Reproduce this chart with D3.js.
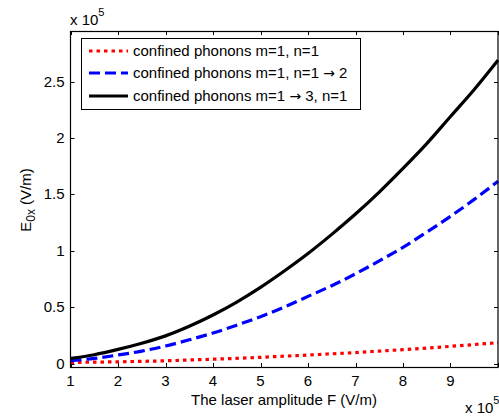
<!DOCTYPE html>
<html><head><meta charset="utf-8">
<script src="https://cdn.jsdelivr.net/npm/d3@7/dist/d3.min.js"></script>
<style>body{margin:0;background:#fff}svg{display:block;font-family:"Liberation Sans",Arial,sans-serif}</style>
</head><body>
<svg id="c" width="499" height="416"></svg>
<script>
// x in units of 1e5 V/m, y in units of 1e5 V/m
const xs = [1,1.5,2,2.5,3,3.5,4,4.5,5,5.5,6,6.5,7,7.5,8,8.5,9,9.5,10];
const redVals   = [0.010,0.012,0.015,0.019,0.024,0.031,0.038,0.046,0.055,0.065,0.075,0.086,0.097,0.11,0.123,0.137,0.152,0.168,0.185];
const blueVals  = [0.025,0.045,0.075,0.11,0.155,0.21,0.27,0.34,0.415,0.50,0.595,0.69,0.795,0.91,1.03,1.165,1.305,1.455,1.615];
const blackVals = [0.045,0.078,0.125,0.18,0.245,0.33,0.43,0.545,0.675,0.82,0.975,1.145,1.325,1.52,1.73,1.95,2.19,2.43,2.69];
const seriesNames = [["confined phonons m=1, n=1"],["confined phonons m=1, n=1 ","\u2192"," 2"],["confined phonons m=1 ","\u2192"," 3, n=1"]];
const xTicks = [1,2,3,4,5,6,7,8,9];
const yTicks = [0,0.5,1,1.5,2,2.5];
const yTickLabels = ["0","0.5","1","1.5","2","2.5"];

const svg = d3.select("#c");
const L=70.5, R=498, T=31, B=367;
const x = d3.scaleLinear().domain([1,10]).range([L,R]);
const y = d3.scaleLinear().domain([-0.031,2.948]).range([B,T]);

// ticks inside, all four sides
const tk=4;
const g = svg.append("g").attr("stroke","#000").attr("stroke-width",1);
xTicks.concat([10]).forEach(v=>{
  const px=Math.round(x(v))+0.5;
  g.append("line").attr("x1",px).attr("x2",px).attr("y1",B).attr("y2",B-tk);
  g.append("line").attr("x1",px).attr("x2",px).attr("y1",T).attr("y2",T+tk);
});
yTicks.forEach(v=>{
  const py=Math.round(y(v))+0.5;
  g.append("line").attr("x1",L).attr("x2",L+tk).attr("y1",py).attr("y2",py);
  g.append("line").attr("x1",R).attr("x2",R-tk).attr("y1",py).attr("y2",py);
});

const line = d3.line().x((d,i)=>x(xs[i])).y(d=>y(d)).curve(d3.curveMonotoneX);
const series = [
  {vals:redVals, color:"#ff0000", dash:"3.5,4"},
  {vals:blueVals, color:"#0000ff", dash:"11,5"},
  {vals:blackVals, color:"#000000", dash:null}
];
series.forEach(s=>{
  svg.append("path").attr("d",line(s.vals)).attr("fill","none")
    .attr("stroke",s.color).attr("stroke-width",3.2)
    .attr("stroke-dasharray",s.dash);
});

// axes box
svg.append("rect").attr("x",L).attr("y",T+0.5).attr("width",R-L).attr("height",B-T)
  .attr("fill","none").attr("stroke","#000").attr("stroke-width",1.2);

// tick labels
const fs=15;
xTicks.forEach(v=>{
  svg.append("text").attr("x",x(v)).attr("y",B+19).attr("text-anchor","middle")
    .attr("font-size",fs).text(v);
});
yTicks.forEach((v,i)=>{
  svg.append("text").attr("x",L-6).attr("y",y(v)+5).attr("text-anchor","end")
    .attr("font-size",fs).text(yTickLabels[i]);
});

// exponent labels
function expo(xp,yp){
  const t=svg.append("text").attr("x",xp).attr("y",yp).attr("font-size",fs);
  t.append("tspan").text("x 10");
  t.append("tspan").attr("dy",-9).attr("font-size",11).text("5");
}
expo(70,25);
expo(465,413);

// axis titles
svg.append("text").attr("x",284).attr("y",405).attr("text-anchor","middle")
  .attr("font-size",fs).text("The laser amplitude F (V/m)");
const yl = svg.append("text").attr("transform","translate(31,200) rotate(-90)")
  .attr("text-anchor","middle").attr("font-size",fs);
yl.append("tspan").text("E");
yl.append("tspan").attr("dy",4).attr("font-size",12).text("0x");
yl.append("tspan").attr("dy",-4).text(" (V/m)");

// legend
const lg = svg.append("g");
lg.append("rect").attr("x",81.5).attr("y",38.5).attr("width",279).attr("height",71)
  .attr("fill","#fff").attr("stroke","#000").attr("stroke-width",1);
const rowsY=[51,73,96];
series.forEach((s,i)=>{
  lg.append("line").attr("x1",89).attr("x2",128).attr("y1",rowsY[i]).attr("y2",rowsY[i])
    .attr("stroke",s.color).attr("stroke-width",3.2).attr("stroke-dasharray",s.dash);
  const t=lg.append("text").attr("x",133).attr("y",rowsY[i]+5).attr("font-size",fs);
  seriesNames[i].forEach(part=>{
    const ts=t.append("tspan").text(part);
    if(part==="\u2192") ts.attr("font-family","DejaVu Sans").attr("font-size",14);
  });
});
</script>
</body></html>
